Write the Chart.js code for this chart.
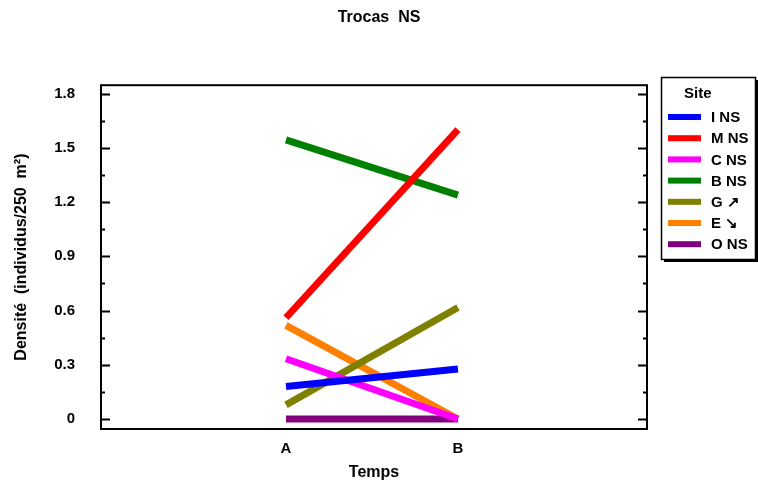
<!DOCTYPE html>
<html>
<head>
<meta charset="utf-8">
<script src="https://cdn.jsdelivr.net/npm/chart.js@4"></script>
<style>
  html, body { margin: 0; padding: 0; background: #fff; }
  #wrap { width: 758px; height: 484px; position: relative; }
</style>
</head>
<body>
<div id="wrap"><canvas id="myChart" width="758" height="484"></canvas></div>
<script>
const categories = ["A", "B"];
const categoryX = [1, 2];
const siteLabels = ["I NS", "M NS", "C NS", "B NS", "G \u2197", "E \u2198", "O NS"];
const siteColors = ["#0000ff", "#ff0000", "#ff00ff", "#008000", "#808000", "#ff8000", "#800080"];
const valuesI = [0.18, 0.276];
const valuesM = [0.56, 1.60];
const valuesC = [0.333, 0.0];
const valuesB = [1.544, 1.238];
const valuesG = [0.078, 0.617];
const valuesE = [0.518, 0.0];
const valuesO = [0.0, 0.0];
const yTicks = [0, 0.3, 0.6, 0.9, 1.2, 1.5, 1.8];
const yMinorTicks = [0.15, 0.45, 0.75, 1.05, 1.35, 1.65];

const seriesValues = [valuesI, valuesM, valuesC, valuesB, valuesG, valuesE, valuesO];
const FONT = "'Liberation Sans', Arial, sans-serif";

const datasets = seriesValues.map((vals, i) => ({
  label: siteLabels[i],
  data: vals.map((v, j) => ({ x: categoryX[j], y: v })),
  borderColor: siteColors[i],
  backgroundColor: siteColors[i],
  borderWidth: 7,
  pointRadius: 0,
  tension: 0,
}));

// frame, inward ticks and the legend box
const framePlugin = {
  id: "frame",
  afterDraw(chart) {
    const ctx = chart.ctx;
    const a = chart.chartArea;
    const y = chart.scales.y;
    ctx.save();
    ctx.strokeStyle = "#000";
    ctx.lineWidth = 2;
    ctx.strokeRect(a.left, a.top, a.right - a.left, a.bottom - a.top);
    const drawTick = (v, len) => {
      const py = Math.round(y.getPixelForValue(v)) + 0.5;
      ctx.beginPath();
      ctx.moveTo(a.left, py);
      ctx.lineTo(a.left + len, py);
      ctx.moveTo(a.right, py);
      ctx.lineTo(a.right - len, py);
      ctx.stroke();
    };
    yTicks.forEach((v) => drawTick(v, 9));
    yMinorTicks.forEach((v) => drawTick(v, 4));

    // legend
    const lx = 661, ly = 77, lw = 94, lh = 182;
    ctx.fillStyle = "#000";
    ctx.fillRect(lx + 3, ly + lh, lw, 3);
    ctx.fillRect(lx + lw, ly + 3, 3, lh);
    ctx.lineWidth = 1.5;
    ctx.strokeRect(lx + 0.5, ly + 0.5, lw, lh);
    ctx.font = "bold 15px " + FONT;
    ctx.textBaseline = "middle";
    ctx.textAlign = "left";
    ctx.fillText("Site", 684, 94);
    chart.data.datasets.forEach((ds, i) => {
      const ry = 117 + i * 21.2;
      ctx.fillStyle = ds.borderColor;
      ctx.fillRect(668, ry - 3, 33, 6);
      ctx.fillStyle = "#000";
      ctx.fillText(ds.label, 711, ry + 1);
    });
    ctx.restore();
  },
};

const ctx = document.getElementById("myChart").getContext("2d");
new Chart(ctx, {
  type: "line",
  data: { datasets: datasets },
  options: {
    responsive: false,
    animation: false,
    layout: { padding: 0 },
    plugins: {
      legend: { display: false },
      tooltip: { enabled: false },
      title: {
        display: true,
        text: "Trocas  NS",
        color: "#000",
        font: { family: FONT, size: 16, weight: "bold" },
        padding: { top: 8, bottom: 58 },
      },
    },
    scales: {
      x: {
        type: "linear",
        min: -0.0756,
        max: 3.099,
        afterBuildTicks: (scale) => {
          scale.ticks = categoryX.map((v) => ({ value: v }));
        },
        afterFit: (scale) => { scale.height = 484 - 429; },
        ticks: {
          color: "#000",
          font: { family: FONT, size: 15, weight: "bold" },
          padding: 11,
          autoSkip: false,
          maxRotation: 0,
          callback: (v) => categories[categoryX.indexOf(v)] ?? "",
        },
        grid: { display: false, drawTicks: false },
        border: { display: false },
        title: {
          display: true,
          text: "Temps",
          color: "#000",
          font: { family: FONT, size: 16, weight: "bold" },
          padding: { top: 6, bottom: 2 },
        },
      },
      y: {
        min: -0.0553,
        max: 1.846,
        afterBuildTicks: (scale) => {
          scale.ticks = yTicks.map((v) => ({ value: v }));
        },
        afterFit: (scale) => { scale.width = 101; },
        ticks: {
          color: "#000",
          font: { family: FONT, size: 15, weight: "bold" },
          padding: 26,
          callback: (v) => (v === 0 ? "0" : v.toFixed(1)),
        },
        grid: { display: false, drawTicks: false },
        border: { display: false },
        title: {
          display: true,
          text: "Densit\u00e9  (individus/250  m\u00b2)",
          color: "#000",
          font: { family: FONT, size: 16, weight: "bold" },
          padding: { top: 12 },
        },
      },
      yRight: {
        type: "linear",
        position: "right",
        min: -0.0553,
        max: 1.846,
        afterFit: (scale) => { scale.width = 758 - 647; },
        ticks: { display: false },
        grid: { display: false, drawTicks: false },
        border: { display: false },
      },
    },
  },
  plugins: [framePlugin],
});
</script>
</body>
</html>
